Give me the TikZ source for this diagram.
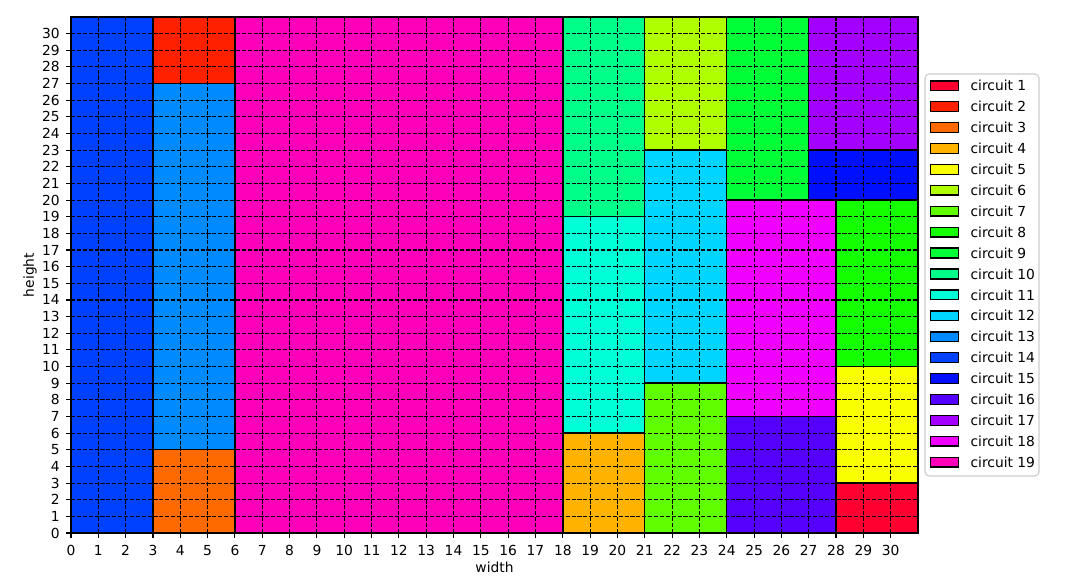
\documentclass[tikz,border=0pt]{standalone}
\usepackage{fontspec}
\setmainfont{DejaVu Sans}
\usetikzlibrary{positioning}
\definecolor{circ1}{HTML}{FF0030}
\definecolor{circ2}{HTML}{FF2000}
\definecolor{circ3}{HTML}{FF6A00}
\definecolor{circ4}{HTML}{FFB300}
\definecolor{circ5}{HTML}{FAFF00}
\definecolor{circ6}{HTML}{AFFF00}
\definecolor{circ7}{HTML}{60FF00}
\definecolor{circ8}{HTML}{14FF00}
\definecolor{circ9}{HTML}{00FF36}
\definecolor{circ10}{HTML}{00FF88}
\definecolor{circ11}{HTML}{00FFD6}
\definecolor{circ12}{HTML}{00D5FF}
\definecolor{circ13}{HTML}{008AFF}
\definecolor{circ14}{HTML}{0040FF}
\definecolor{circ15}{HTML}{0010FF}
\definecolor{circ16}{HTML}{5500FF}
\definecolor{circ17}{HTML}{A300FF}
\definecolor{circ18}{HTML}{F000FF}
\definecolor{circ19}{HTML}{FF00BA}
\definecolor{legframe}{HTML}{CCCCCC}

\begin{document}
\begin{tikzpicture}[x=0.254mm,y=0.254mm,font=\fontsize{10}{12}\selectfont,
  cell/.style={draw=black,line width=1bp},
  gridline/.style={black,line width=0.8bp,dash pattern=on 2.96bp off 1.28bp},
  tickmark/.style={black,line width=0.8bp},
  ticklab/.style={inner sep=0pt},
  keybox/.style={draw=black,line width=1bp,minimum width=20bp,minimum height=7bp,inner sep=0pt},
  keylab/.style={inner sep=0pt,anchor=west}]
\useasboundingbox (0,0) rectangle (1073,585);

% ===== plot area =====
\begin{scope}[shift={(71,52)},x=6.9399mm,y=4.2279mm]
\foreach \xa/\ya/\xb/\yb/\c in {0/0/3/31/14, 3/0/6/5/3, 3/5/6/27/13, 3/27/6/31/2,
    6/0/18/31/19, 18/0/21/6/4, 18/6/21/19/11, 18/19/21/31/10,
    21/0/24/9/7, 21/9/24/23/12, 21/23/24/31/6,
    24/0/28/7/16, 24/7/28/20/18, 24/20/27/31/9, 27/20/31/23/15, 27/23/31/31/17,
    28/0/31/3/1, 28/3/31/10/5, 28/10/31/20/8}
  \filldraw[cell,fill=circ\c] (\xa,\ya) rectangle (\xb,\yb);
% grid
\foreach \i in {1,...,30}{
  \draw[gridline] (\i,0) -- (\i,31);
  \draw[gridline] (0,\i) -- (31,\i);}
\draw[line width=0.8bp] (0,0) rectangle (31,31);
% ticks
\foreach \i in {0,...,30}{
  \draw[tickmark] (\i,0) -- ++(0,-3.5bp);
  \node[ticklab,anchor=north] (xt\i) at ([yshift=-8.6bp]\i,0) {\i};
  \draw[tickmark] (0,\i) -- ++(-3.5bp,0);
  \node[ticklab,anchor=east] (yt\i) at ([xshift=-7.9bp]0,\i) {\i};}
\end{scope}

% ===== axis labels =====
\node[inner sep=0pt] (xlab) at (494.5,17.5) {width};
\node[inner sep=0pt,rotate=90] (ylab) at (30,310) {height};

% ===== legend =====
\draw[legframe,fill=white,rounded corners=3bp,line width=0.8bp] (925,109) rectangle (1039,511);
\foreach \k in {1,...,19}{
  \node[keybox,fill=circ\k,anchor=west] (key\k) at (930,499.3-\k*20.92+20.92) {};
  \node[keylab] (lab\k) at ([xshift=8bp]key\k.east) {circuit \k};}
\end{tikzpicture}
\end{document}
